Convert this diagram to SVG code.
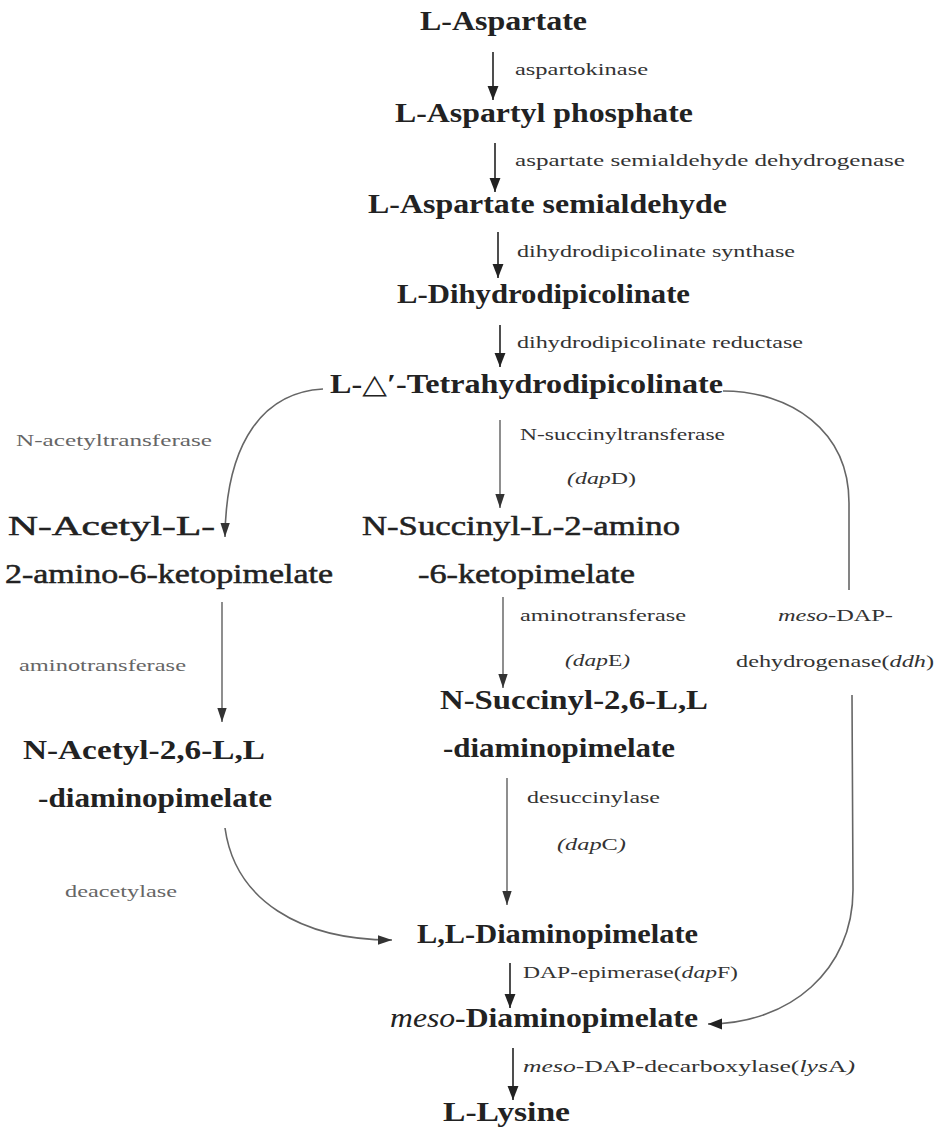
<svg xmlns="http://www.w3.org/2000/svg" width="941" height="1130" viewBox="0 0 941 1130">
<defs>
<style>
.n{font-family:"Liberation Serif","DejaVu Serif",serif;font-size:27px;font-weight:bold;fill:#222}
.nc{font-family:"Liberation Serif","DejaVu Serif",serif;font-size:27px;font-weight:normal;fill:#222;stroke:#222;stroke-width:0.5}
.l{font-family:"Liberation Serif","DejaVu Serif",serif;font-size:17px;fill:#333}
.g{font-family:"Liberation Serif","DejaVu Serif",serif;font-size:17px;fill:#666}
.i{font-style:italic}
.ln{fill:none;stroke:#222;stroke-width:1.6}
.lt{fill:none;stroke:#444;stroke-width:1.2}
.cv{fill:none;stroke:#666;stroke-width:1.6}
</style>
<marker id="ah" markerWidth="14" markerHeight="14" refX="18" refY="7" orient="auto" markerUnits="userSpaceOnUse" viewBox="0 0 18 14"><path d="M0,0 L18,7 L0,14 Z" fill="#222"/></marker>
<marker id="as" markerWidth="14" markerHeight="12" refX="18" refY="6" orient="auto" markerUnits="userSpaceOnUse" viewBox="0 0 18 12"><path d="M0,0 L18,6 L0,12 Z" fill="#333"/></marker>
</defs>

<g id="connectors">
<line class="ln" x1="493" y1="52" x2="493" y2="100" marker-end="url(#ah)"/>
<line class="ln" x1="495" y1="143" x2="495" y2="192" marker-end="url(#ah)"/>
<line class="ln" x1="498" y1="232" x2="498" y2="278" marker-end="url(#ah)"/>
<line class="ln" x1="500" y1="325" x2="500" y2="367" marker-end="url(#ah)"/>
<path class="cv" d="M323,389 C265,392 226,440 225,537" marker-end="url(#as)"/>
<line class="lt" x1="500" y1="420" x2="500" y2="508" marker-end="url(#as)"/>
<line class="lt" x1="222" y1="602" x2="222" y2="722" marker-end="url(#as)"/>
<line class="lt" x1="503" y1="597" x2="503" y2="688" marker-end="url(#as)"/>
<line class="lt" x1="507" y1="778" x2="507" y2="905" marker-end="url(#as)"/>
<path class="cv" d="M225,828 C235,900 300,940 392,940" marker-end="url(#as)"/>
<line class="ln" x1="510" y1="963" x2="510" y2="1008" marker-end="url(#ah)"/>
<line class="ln" x1="513" y1="1048" x2="513" y2="1100" marker-end="url(#ah)"/>
<path class="cv" d="M723,391 C790,391 849,430 849,503 L849,590"/>
<path class="cv" d="M852,695 L853,890 C853,970 790,1024 708,1024" marker-end="url(#ah)"/>
</g>

<g id="n-aspartate"><text class="n" x="420" y="30" textLength="167" lengthAdjust="spacingAndGlyphs">L-Aspartate</text></g>
<g id="n-aspartyl-phosphate"><text class="n" x="395" y="122" textLength="298" lengthAdjust="spacingAndGlyphs">L-Aspartyl phosphate</text></g>
<g id="n-aspartate-semialdehyde"><text class="n" x="368" y="213" textLength="359" lengthAdjust="spacingAndGlyphs">L-Aspartate semialdehyde</text></g>
<g id="n-dihydrodipicolinate"><text class="n" x="397" y="303" textLength="293" lengthAdjust="spacingAndGlyphs">L-Dihydrodipicolinate</text></g>
<g id="n-tetrahydrodipicolinate"><text class="n" x="330" y="393" textLength="393" lengthAdjust="spacingAndGlyphs">L-△′-Tetrahydrodipicolinate</text></g>
<g id="n-acetyl-ketopimelate">
<text class="nc" x="8" y="535" textLength="207" lengthAdjust="spacingAndGlyphs">N-Acetyl-L-</text>
<text class="nc" x="5" y="583" textLength="328" lengthAdjust="spacingAndGlyphs">2-amino-6-ketopimelate</text>
</g>
<g id="n-succinyl-ketopimelate">
<text class="nc" x="362" y="535" textLength="318" lengthAdjust="spacingAndGlyphs">N-Succinyl-L-2-amino</text>
<text class="nc" x="418" y="583" textLength="217" lengthAdjust="spacingAndGlyphs">-6-ketopimelate</text>
</g>
<g id="n-acetyl-diaminopimelate">
<text class="n" x="23" y="759" textLength="242" lengthAdjust="spacingAndGlyphs">N-Acetyl-2,6-L,L</text>
<text class="n" x="38" y="807" textLength="234" lengthAdjust="spacingAndGlyphs">-diaminopimelate</text>
</g>
<g id="n-succinyl-diaminopimelate">
<text class="n" x="440" y="709" textLength="268" lengthAdjust="spacingAndGlyphs">N-Succinyl-2,6-L,L</text>
<text class="n" x="443" y="757" textLength="232" lengthAdjust="spacingAndGlyphs">-diaminopimelate</text>
</g>
<g id="n-ll-diaminopimelate"><text class="n" x="417" y="943" textLength="281" lengthAdjust="spacingAndGlyphs">L,L-Diaminopimelate</text></g>
<g id="n-meso-diaminopimelate"><text class="n" x="390" y="1027" textLength="308" lengthAdjust="spacingAndGlyphs"><tspan class="i" font-weight="normal">meso</tspan>-Diaminopimelate</text></g>
<g id="n-lysine"><text class="n" x="443" y="1121" textLength="127" lengthAdjust="spacingAndGlyphs">L-Lysine</text></g>

<g id="labels">
<text class="l" x="515" y="75" textLength="133" lengthAdjust="spacingAndGlyphs">aspartokinase</text>
<text class="l" x="515" y="166" textLength="390" lengthAdjust="spacingAndGlyphs">aspartate semialdehyde dehydrogenase</text>
<text class="l" x="517" y="257" textLength="278" lengthAdjust="spacingAndGlyphs">dihydrodipicolinate synthase</text>
<text class="l" x="517" y="348" textLength="286" lengthAdjust="spacingAndGlyphs">dihydrodipicolinate reductase</text>
<text class="g" x="16" y="446" textLength="196" lengthAdjust="spacingAndGlyphs">N-acetyltransferase</text>
<text class="l" x="520" y="440" textLength="205" lengthAdjust="spacingAndGlyphs">N-succinyltransferase</text>
<text class="l" x="567" y="484" textLength="69" lengthAdjust="spacingAndGlyphs"><tspan class="i">(dap</tspan>D)</text>
<text class="l" x="520" y="621" textLength="166" lengthAdjust="spacingAndGlyphs">aminotransferase</text>
<text class="l" x="565" y="666" textLength="65" lengthAdjust="spacingAndGlyphs"><tspan class="i">(dap</tspan>E<tspan class="i">)</tspan></text>
<text class="l" x="778" y="621" textLength="115" lengthAdjust="spacingAndGlyphs"><tspan class="i">meso</tspan>-DAP-</text>
<text class="l" x="736" y="667" textLength="198" lengthAdjust="spacingAndGlyphs">dehydrogenase(<tspan class="i">ddh</tspan>)</text>
<text class="g" x="19" y="671" textLength="167" lengthAdjust="spacingAndGlyphs">aminotransferase</text>
<text class="l" x="527" y="803" textLength="133" lengthAdjust="spacingAndGlyphs">desuccinylase</text>
<text class="l" x="557" y="850" textLength="69" lengthAdjust="spacingAndGlyphs"><tspan class="i">(dap</tspan>C<tspan class="i">)</tspan></text>
<text class="g" x="65" y="897" textLength="112" lengthAdjust="spacingAndGlyphs">deacetylase</text>
<text class="l" x="523" y="978" textLength="215" lengthAdjust="spacingAndGlyphs">DAP-epimerase(<tspan class="i">dap</tspan>F)</text>
<text class="l" x="523" y="1072" textLength="332" lengthAdjust="spacingAndGlyphs"><tspan class="i">meso</tspan>-DAP-decarboxylase(<tspan class="i">lys</tspan>A<tspan class="i">)</tspan></text>
</g>
</svg>
